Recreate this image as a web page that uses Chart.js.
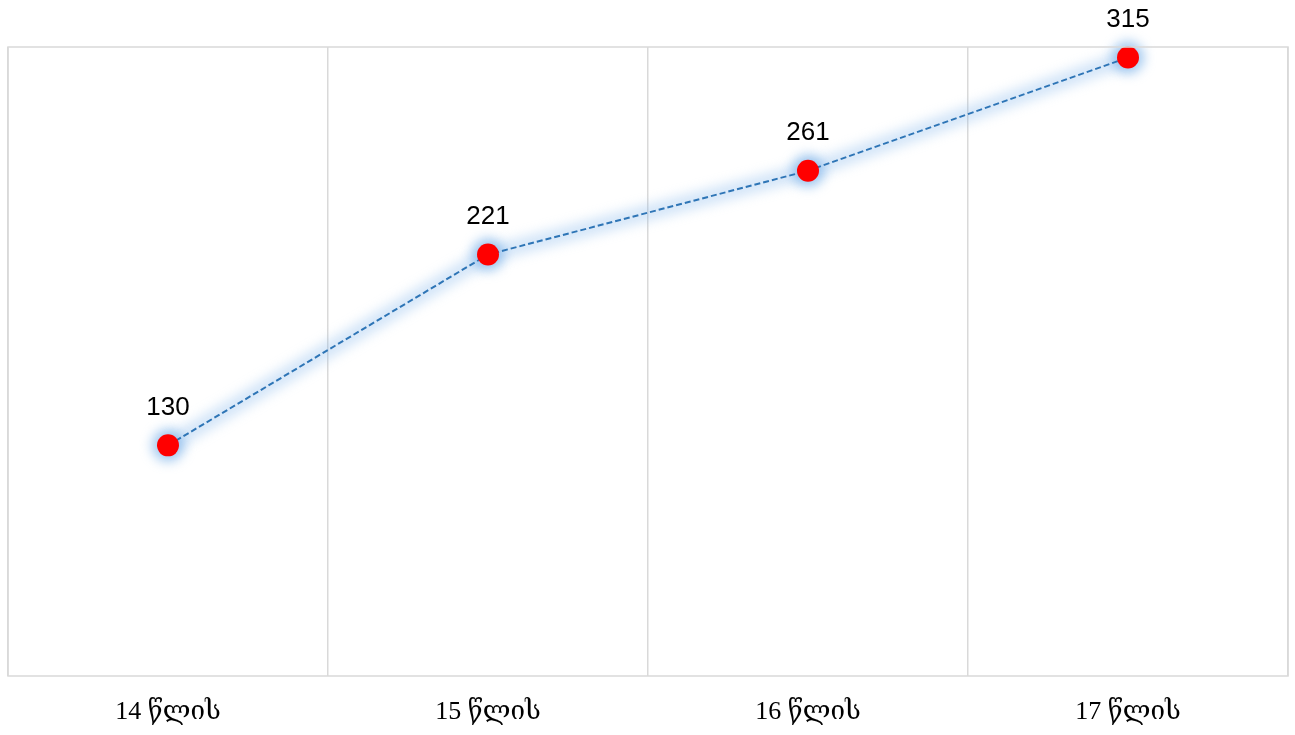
<!DOCTYPE html>
<html lang="ka">
<head>
  <meta charset="UTF-8">
  <title>წლის</title>
  <script src="https://cdn.jsdelivr.net/npm/chart.js"></script>
  <style>
    html, body { margin: 0; padding: 0; background: #fff; }
    #wrap { width: 1295px; height: 735px; }
  </style>
</head>
<body>
<div id="wrap"><canvas id="myChart"></canvas></div>
<script>
  const labels = ['14 წლის', '15 წლის', '16 წლის', '17 წლის'];
  const values = [130, 221, 261, 315];
  const yMin = 20;
  const yMax = 320;

  // glow under line + points, plot border, value labels
  const decor = {
    id: 'decor',
    beforeDatasetsDraw(chart) {
      const ctx = chart.ctx;
      const pts = chart.getDatasetMeta(0).data;
      ctx.save();
      ctx.filter = 'blur(6px)';
      ctx.strokeStyle = 'rgba(130,180,235,0.35)';
      ctx.lineWidth = 16;
      ctx.lineJoin = 'round';
      ctx.beginPath();
      pts.forEach((p, i) => i ? ctx.lineTo(p.x, p.y) : ctx.moveTo(p.x, p.y));
      ctx.stroke();
      ctx.fillStyle = 'rgba(110,170,230,0.65)';
      pts.forEach(p => {
        ctx.beginPath();
        ctx.arc(p.x, p.y, 16, 0, Math.PI * 2);
        ctx.fill();
      });
      ctx.restore();
    },
    afterDatasetsDraw(chart) {
      const ctx = chart.ctx;
      const a = chart.chartArea;
      ctx.save();
      ctx.strokeStyle = '#d9d9d9';
      ctx.lineWidth = 1.5;
      ctx.strokeRect(a.left, a.top, a.right - a.left, a.bottom - a.top);
      ctx.fillStyle = '#000';
      ctx.font = '26px "Liberation Sans", sans-serif';
      ctx.textAlign = 'center';
      ctx.textBaseline = 'middle';
      chart.getDatasetMeta(0).data.forEach((p, i) => {
        ctx.fillText(values[i], p.x, p.y - 38);
      });
      ctx.restore();
    }
  };

  new Chart(document.getElementById('myChart'), {
    type: 'line',
    data: {
      labels: labels,
      datasets: [{
        data: values,
        borderColor: '#2e75b6',
        borderWidth: 2,
        borderDash: [6, 3],
        pointBackgroundColor: '#ff0000',
        pointBorderColor: '#ff0000',
        pointRadius: 11,
        pointBorderWidth: 0,
        pointHoverRadius: 11,
        clip: false
      }]
    },
    options: {
      responsive: true,
      maintainAspectRatio: false,
      animation: false,
      layout: { autoPadding: false, padding: { left: 8, right: 7, top: 47, bottom: 4 } },
      plugins: { legend: { display: false }, tooltip: { enabled: false } },
      scales: {
        x: {
          offset: true,
          border: { display: false },
          grid: { offset: true, color: '#d9d9d9', lineWidth: 1.5, drawTicks: false },
          ticks: {
            color: '#000',
            padding: 21,
            font: { family: '"Liberation Serif", "DejaVu Serif", serif', size: 26 }
          },
          afterFit: s => {
            s.height = 55;
            s.paddingLeft = 0;
            s.paddingRight = 0;
          }
        },
        y: {
          display: false,
          min: yMin,
          max: yMax
        }
      }
    },
    plugins: [decor]
  });
</script>
</body>
</html>
